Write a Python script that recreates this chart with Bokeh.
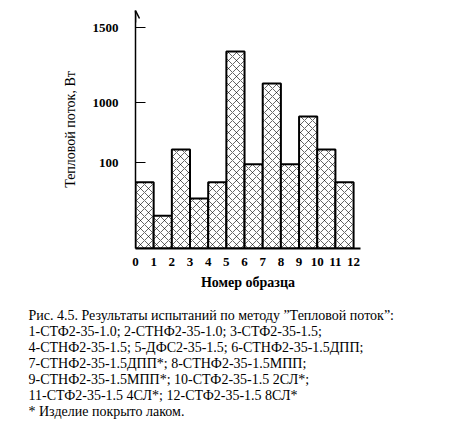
import numpy as np
from bokeh.plotting import figure
from bokeh.layouts import column
from bokeh.models import Range1d, FixedTicker, ColumnDataSource, Arrow, OpenHead
from bokeh.core.properties import value
from bokeh.embed import file_html
from bokeh.resources import INLINE

# --- data ---
samples = list(range(1, 13))
heat_flux = [77, 38, 295, 58, 77, 1340, 98, 1127, 98, 790, 295, 77]   # W, read on the (broken) axis
y_tick_values = [100, 1000, 1500]
y_tick_labels = ["100", "1000", "1500"]
x_tick_values = list(range(0, 13))
x_tick_labels = [str(v) for v in x_tick_values]
caption_lines = [
    "Рис. 4.5. Результаты испытаний по методу \u201dТепловой поток\u201d:",
    "1-СТФ2-35-1.0; 2-СТНФ2-35-1.0; 3-СТФ2-35-1.5;",
    "4-СТНФ2-35-1.5; 5-ДФС2-35-1.5; 6-СТНФ2-35-1.5ДПП;",
    "7-СТНФ2-35-1.5ДПП*; 8-СТНФ2-35-1.5МПП;",
    "9-СТНФ2-35-1.5МПП*; 10-СТФ2-35-1.5 2СЛ*;",
    "11-СТФ2-35-1.5 4СЛ*; 12-СТФ2-35-1.5 8СЛ*",
    "* Изделие покрыто лаком.",
]

# broken axis of the original: piecewise display mapping
axis_break_values = [0, 100, 1000, 1500]
axis_break_display = [0, 86, 146, 221]
display = np.interp(heat_flux, axis_break_values, axis_break_display)
tick_display = np.interp(y_tick_values, axis_break_values, axis_break_display)

serif = "Liberation Serif"

p = figure(width=460, height=308, output_backend="svg", toolbar_location=None,
           x_range=Range1d(0, 12.38), y_range=Range1d(0, 238),
           min_border_left=135, min_border_right=100, min_border_top=10, min_border_bottom=60)
p.frame_align = False
p.outline_line_color = None
p.xgrid.visible = False
p.ygrid.visible = False
p.background_fill_color = "white"
p.border_fill_color = "white"

src = ColumnDataSource(dict(x=[s - 0.5 for s in samples], top=display))
p.vbar(x="x", top="top", width=1, bottom=0, source=src,
       fill_color="white", line_color="black", line_width=2,
       hatch_pattern="diagonal_cross", hatch_color="black", hatch_scale=8, hatch_weight=0.6)

# y axis
ya = p.yaxis[0]
ya.ticker = FixedTicker(ticks=list(tick_display))
ya.major_label_overrides = {float(t): l for t, l in zip(tick_display, y_tick_labels)}
ya.major_tick_in = 10
ya.major_tick_out = 0
ya.minor_tick_line_color = None
ya.axis_line_width = 1.5
ya.major_label_standoff = 17
ya.major_label_text_font = serif
ya.major_label_text_font_style = "bold"
ya.major_label_text_font_size = "13px"
ya.major_label_text_color = "black"
ya.axis_label = "Тепловой поток, Вт"
ya.axis_label_text_font = serif
ya.axis_label_text_font_style = "normal"
ya.axis_label_text_font_size = "14px"
ya.axis_label_text_color = "black"
ya.axis_label_standoff = 12

# x axis
xa = p.xaxis[0]
xa.ticker = FixedTicker(ticks=x_tick_values)
xa.major_label_overrides = {v: l for v, l in zip(x_tick_values, x_tick_labels)}
xa.major_tick_in = 0
xa.major_tick_out = 0
xa.minor_tick_line_color = None
xa.axis_line_width = 2
xa.major_label_standoff = 9
xa.major_label_text_font = serif
xa.major_label_text_font_style = "bold"
xa.major_label_text_font_size = "13px"
xa.major_label_text_color = "black"
xa.axis_label = "Номер образца"
xa.axis_label_text_font = serif
xa.axis_label_text_font_style = "bold"
xa.axis_label_text_font_size = "14px"
xa.axis_label_text_color = "black"
xa.axis_label_standoff = 6

# arrow head at top of y axis
p.add_layout(Arrow(end=OpenHead(size=8, line_width=1.5), x_start=0, x_end=0,
                   y_start=p.y_range.end - 12, y_end=p.y_range.end, line_width=1.5))

# caption
c = figure(width=460, height=132, output_backend="svg", toolbar_location=None,
           x_range=Range1d(0, 460), y_range=Range1d(132, 0),
           min_border=0, x_axis_type=None, y_axis_type=None)
c.frame_align = False
c.outline_line_color = None
c.xgrid.visible = False
c.ygrid.visible = False
n = len(caption_lines)
csrc = ColumnDataSource(dict(x=[28] * n, y=list(7 + 16 * np.arange(n)), t=caption_lines))
c.text(x="x", y="y", text="t", source=csrc, text_font=value(serif), text_font_size="14px",
       text_baseline="middle", text_align="left", text_color="black")

layout = column(p, c)
open("out.html", "w").write(file_html(layout, INLINE))
